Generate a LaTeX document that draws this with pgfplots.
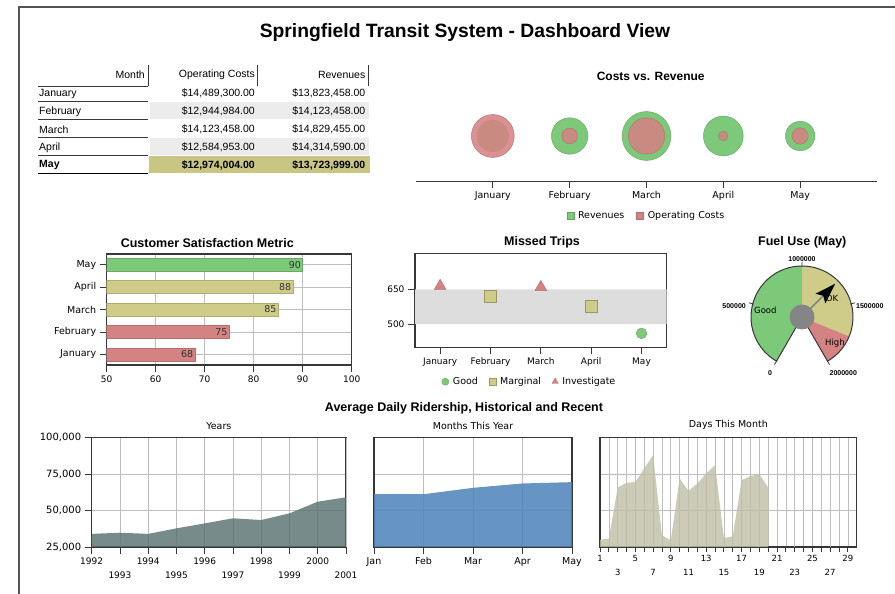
\documentclass[border=0pt]{standalone}
\usepackage{fontspec}
\setmainfont{DejaVu Sans}
\newfontfamily\lib{Liberation Sans}
\usepackage{pgfplots}
\usepackage{pgfplotstable}
\pgfplotsset{compat=1.18}
\usetikzlibrary{calc}
\newcommand\fs[1]{\fontsize{#1}{#1}\selectfont}

\definecolor{cgreen}{RGB}{125,201,122}
\definecolor{colive}{RGB}{206,204,136}
\definecolor{cred}{RGB}{212,130,130}
\definecolor{axgray}{RGB}{55,55,55}
\definecolor{gridgray}{RGB}{190,190,190}
\definecolor{rowgray}{RGB}{236,236,236}
\definecolor{mayolive}{RGB}{200,198,130}
\definecolor{slate}{RGB}{85,110,110}
\definecolor{steel}{RGB}{75,130,185}
\definecolor{khaki}{RGB}{190,190,165}
\definecolor{band}{RGB}{221,221,221}
\definecolor{hub}{RGB}{133,133,133}
\definecolor{framegray}{RGB}{85,85,85}

% Costs vs revenue (millions of dollars)
\pgfplotstableread{
i rev cost
0 13.823458 14.489300
1 14.123458 12.944984
2 14.829455 14.123458
3 14.314590 12.584953
4 13.723999 12.974004
}\bubbles

% Missed trips
\pgfplotstableread{
m trips
1 621
3 578
}\marginal
\pgfplotstableread{
m trips
0 664
2 659
}\investigate
\pgfplotstableread{
m trips
4 460
}\good

% Ridership
\pgfplotstableread{
year riders
1992 34000
1993 34800
1994 34000
1995 37800
1996 41200
1997 44700
1998 43500
1999 48100
2000 56100
2001 59100
}\years
\pgfplotstableread{
m riders
0 61200
1 61200
2 65600
3 68600
4 69500
}\months
\pgfplotstableread{
d riders
1 30000
2 30700
3 65800
4 69000
5 69700
6 78900
7 88100
8 33000
9 29600
10 72000
11 63500
12 68600
13 75500
14 81200
15 31200
16 32300
17 70900
18 73600
19 75000
20 65800
}\days

\pgfplotsset{dashax/.style={
  scale only axis, anchor=south west,
  /pgf/number format/assume math mode=true,
  scaled ticks=false,
  axis line style={axgray, line width=1.1pt},
  tick style={axgray, line width=0.9pt},
  tick align=outside, tick pos=left,
  major tick length=7pt,
  grid style={gridgray, line width=0.7pt},
  tick label style={font=\fs{9}},
  title style={font=\fs{9.5}, at={(0.5,1)}, anchor=south, yshift=0pt, inner sep=2pt},
}}

\begin{document}
\begin{tikzpicture}
\path[use as bounding box] (0pt,0pt) rectangle (895pt,594pt);
\draw[framegray, line width=2pt] (19pt,0pt) -- (19pt,586.5pt) -- (895pt,586.5pt);

% Main title
\node[font=\lib\bfseries\fs{19.3}] at (465pt,561pt) {Springfield Transit System - Dashboard View};

% ---------------- Table ----------------
\fill[rowgray] (150pt,475.2pt) rectangle (369pt,491.8pt);
\fill[rowgray] (150pt,439.2pt) rectangle (369pt,456pt);
\fill[mayolive] (149pt,420.7pt) rectangle (370pt,437.6pt);
\foreach \yy in {508,492.3,474.7,456.7,438.3}
  \draw[axgray, line width=0.8pt] (38pt,\yy pt) -- (148pt,\yy pt);
\draw[black, line width=1.3pt] (38pt,420.7pt) -- (148pt,420.7pt);
\foreach \xx in {148,257.7,368.3}
  \draw[axgray, line width=1pt] (\xx pt,508pt) -- (\xx pt,529pt);
\begin{scope}[every node/.style={font=\lib\fs{10.5}, inner sep=0pt}]
\node[anchor=east] at (145pt,519pt) {Month};
\node[anchor=east] at (255pt,519pt) {Operating Costs};
\node[anchor=east] at (365.5pt,519pt) {Revenues};
\node[anchor=west] at (39pt,500.3pt) {January};
\node[anchor=east] at (255pt,500.3pt) {\$14,489,300.00};
\node[anchor=east] at (365.5pt,500.3pt) {\$13,823,458.00};
\node[anchor=west] at (39pt,482.5pt) {February};
\node[anchor=east] at (255pt,482.5pt) {\$12,944,984.00};
\node[anchor=east] at (365.5pt,482.5pt) {\$14,123,458.00};
\node[anchor=west] at (39pt,464.5pt) {March};
\node[anchor=east] at (255pt,464.5pt) {\$14,123,458.00};
\node[anchor=east] at (365.5pt,464.5pt) {\$14,829,455.00};
\node[anchor=west] at (39pt,446.5pt) {April};
\node[anchor=east] at (255pt,446.5pt) {\$12,584,953.00};
\node[anchor=east] at (365.5pt,446.5pt) {\$14,314,590.00};
\node[anchor=west, font=\lib\bfseries\fs{10.5}] at (39pt,428.7pt) {May};
\node[anchor=east, font=\lib\bfseries\fs{10.5}] at (255pt,428.7pt) {\$12,974,004.00};
\node[anchor=east, font=\lib\bfseries\fs{10.5}] at (365.5pt,428.7pt) {\$13,723,999.00};
\end{scope}

% ---------------- Costs vs Revenue ----------------
\node[font=\lib\bfseries\fs{12}] at (650.7pt,517.3pt) {Costs vs. Revenue};
\begin{axis}[scale only axis, anchor=south west, at={(416pt,412.3pt)},
  width=461pt, height=91.4pt, xmin=-1, xmax=5, ymin=0, ymax=1,
  axis x line*=bottom, axis y line=none, ytick=\empty,
  xtick={0,...,4}, xticklabels={January,February,March,April,May},
  tick align=outside, major tick length=6pt,
  axis line style={axgray, line width=1.2pt}, tick style={axgray, line width=1pt},
  tick label style={font=\fs{9.5}}, clip=false,
  legend style={draw=none, fill=none, font=\fs{9.5}, at={(0.5,-0.368)}, anchor=center,
    legend columns=2, /tikz/every even column/.append style={column sep=10pt},
    /tikz/every odd column/.append style={column sep=2pt}},
  legend cell align=left]
\addplot[scatter, only marks, mark=*, forget plot,
  scatter/use mapped color={draw=cgreen!80!black, fill=cgreen},
  visualization depends on={4.7+8.8*(\thisrow{rev}-12.585) \as \rr},
  scatter/@pre marker code/.append style={/tikz/mark size=\rr}]
  table[x=i, y expr=0.5] {\bubbles};
\addplot[scatter, only marks, mark=*, forget plot,
  scatter/use mapped color={draw=cred!85!black, fill=cred, fill opacity=0.88},
  visualization depends on={4.7+8.8*(\thisrow{cost}-12.585) \as \rc},
  scatter/@pre marker code/.append style={/tikz/mark size=\rc}]
  table[x=i, y expr=0.5] {\bubbles};
\addlegendimage{legend image code/.code={\draw[fill=cgreen, draw=cgreen!80!black] (0pt,-3.5pt) rectangle (7pt,3.5pt);}}
\addlegendentry{Revenues}
\addlegendimage{legend image code/.code={\draw[fill=cred, draw=cred!85!black] (0pt,-3.5pt) rectangle (7pt,3.5pt);}}
\addlegendentry{Operating Costs}
\end{axis}

% ---------------- Customer Satisfaction ----------------
\node[font=\lib\bfseries\fs{12.5}] at (207.3pt,351.3pt) {Customer Satisfaction Metric};
\begin{axis}[dashax, at={(106.7pt,229pt)}, width=245pt, height=111pt,
  xbar, bar width=12.7pt, bar shift=0pt,
  xmin=50, xmax=100, xtick={50,60,...,100},
  ymin=-0.47, ymax=4.47, ytick={0,...,4},
  yticklabels={January,February,March,April,May},
  yticklabel style={font=\fs{9.5}},
  grid=major, point meta=x,
  nodes near coords, nodes near coords align={anchor=east},
  every node near coord/.append style={font=\fs{9.5}, text=black!80, inner sep=1.5pt}]
\addplot[fill=cred, draw=cred!85!black, line width=0.5pt] coordinates {(68,0) (75,1)};
\addplot[fill=colive, draw=colive!85!black, line width=0.5pt] coordinates {(85,2) (88,3)};
\addplot[fill=cgreen, draw=cgreen!85!black, line width=0.5pt] coordinates {(90,4)};
\end{axis}

% ---------------- Missed Trips ----------------
\node[font=\lib\bfseries\fs{12.5}] at (542pt,352pt) {Missed Trips};
\begin{axis}[dashax, at={(415pt,246.7pt)}, width=251.7pt, height=94pt,
  xmin=-0.5, xmax=4.5, ymin=400, ymax=805,
  xtick={0,...,4}, xticklabels={January,February,March,April,May},
  ytick={500,650},
  legend style={draw=none, fill=none, font=\fs{9.5}, at={(0.455,-0.366)}, anchor=center,
    legend columns=3, /tikz/every even column/.append style={column sep=9pt},
    /tikz/every odd column/.append style={column sep=2pt}},
  legend image post style={mark size=3.6pt},
  legend cell align=left]
\addplot[draw=none, fill=band, forget plot] coordinates {(-0.5,500) (4.5,500) (4.5,650) (-0.5,650) (-0.5,500)};
\addplot[only marks, mark=*, mark size=5.4pt, mark options={fill=cgreen, draw=cgreen!85!black}] table[x=m, y=trips] {\good};
\addlegendentry{Good}
\addplot[only marks, mark=square*, mark size=6pt, mark options={fill=colive, draw=colive!75!black}] table[x=m, y=trips] {\marginal};
\addlegendentry{Marginal}
\addplot[only marks, mark=triangle*, mark size=6.8pt, mark options={fill=cred, draw=cred!85!black}] table[x=m, y=trips] {\investigate};
\addlegendentry{Investigate}
\end{axis}

% ---------------- Fuel gauge ----------------
\node[font=\lib\bfseries\fs{12.5}] at (802.3pt,351.3pt) {Fuel Use (May)};
\begin{axis}[at={(802pt,277pt)}, anchor=center, scale only axis, width=120pt, height=120pt,
  xmin=-60, xmax=60, ymin=-60, ymax=60, hide axis, clip=false]
\addplot[draw=none, mark=none] coordinates {(0,0)};
\coordinate (gc) at (axis cs:0,0);
\end{axis}
% values in thousands: scale 0..2000 over 300 degrees, 0 at 240 deg
\fill[cgreen] (gc) -- +({240-0.15*0}:51pt) arc[start angle={240-0.15*0}, end angle={240-0.15*1000}, radius=51pt] -- cycle;
\fill[colive] (gc) -- +({240-0.15*1000}:51pt) arc[start angle={240-0.15*1000}, end angle={240-0.15*1750}, radius=51pt] -- cycle;
\fill[cred] (gc) -- +({240-0.15*1750}:51pt) arc[start angle={240-0.15*1750}, end angle={240-0.15*2000}, radius=51pt] -- cycle;
\draw[axgray, line width=1pt, line join=round] (gc) -- +(240:51pt) arc[start angle=240, end angle=-60, radius=51pt] -- cycle;
\foreach \v in {0,500,1000,1500,2000}
  \draw[axgray, line width=0.8pt] ($(gc)+({240-0.15*\v}:50pt)$) -- ($(gc)+({240-0.15*\v}:55pt)$);
\fill[hub] (gc) circle[radius=12.5pt];
\draw[hub, line width=1.6pt] (gc) -- +({240-0.15*1300}:30pt);
\fill[black] ($(gc)+({240-0.15*1300}:47pt)$) -- ($(gc)+({240-0.15*1300}:26pt)+({150-0.15*1300}:7pt)$)
  -- ($(gc)+({240-0.15*1300}:30pt)$) -- ($(gc)+({240-0.15*1300}:26pt)+({330-0.15*1300}:7pt)$) -- cycle;
\begin{scope}[every node/.style={font=\lib\bfseries\fs{7}, inner sep=0pt}]
\node at ($(gc)+(0pt,57.7pt)$) {1000000};
\node[anchor=east] at ($(gc)+(-56pt,11pt)$) {500000};
\node[anchor=west] at ($(gc)+(54pt,11pt)$) {1500000};
\node at ($(gc)+(-32pt,-56.3pt)$) {0};
\node at ($(gc)+(41.3pt,-56.3pt)$) {2000000};
\end{scope}
\node[anchor=west, font=\fs{8.5}, inner sep=0pt] at ($(gc)+(-48pt,7pt)$) {Good};
\node[font=\fs{8.5}, inner sep=0pt] at ($(gc)+(30pt,18.7pt)$) {OK};
\node[font=\fs{8.5}, inner sep=0pt] at ($(gc)+(33pt,-26.3pt)$) {High};

% ---------------- Ridership ----------------
\node[font=\lib\bfseries\fs{12.5}] at (464pt,186pt) {Average Daily Ridership, Historical and Recent};

\begin{axis}[dashax, at={(91.7pt,47pt)}, width=254.3pt, height=109.3pt,
  /pgf/number format/1000 sep={},
  xmin=1992, xmax=2001, ymin=25000, ymax=100000,
  xtick={1992,1994,...,2000}, extra x ticks={1993,1995,...,2001},
  extra x tick style={grid=major, tick label style={yshift=-14pt}},
  ytick={25000,50000,75000,100000},
  yticklabels={{25,000},{50,000},{75,000},{100,000}},
  yticklabel style={font=\fs{10}},
  grid=major, title={Years}]
\addplot[fill=slate, fill opacity=0.8, draw=none] table[x=year, y=riders] {\years} \closedcycle;
\end{axis}

\begin{axis}[dashax, at={(374pt,47pt)}, width=198pt, height=109.3pt,
  xmin=0, xmax=4, ymin=25000, ymax=100000,
  xtick={0,...,4}, xticklabels={Jan,Feb,Mar,Apr,May},
  xticklabel style={font=\fs{9.5}},
  ytick={50000,75000}, yticklabels={}, ytick style={draw=none},
  grid=major, title={Months This Year}]
\addplot[fill=steel, fill opacity=0.85, draw=none] table[x=m, y=riders] {\months} \closedcycle;
\end{axis}

\begin{axis}[dashax, at={(600pt,47pt)}, width=256.7pt, height=109.3pt,
  xmin=1, xmax=30, ymin=25000, ymax=100000,
  xtick={1,5,...,29}, minor x tick num=3,
  extra x ticks={3,7,...,27},
  extra x tick style={grid=major, tick label style={yshift=-14pt}},
  major tick length=5pt, minor tick length=5pt,
  xticklabel style={font=\fs{8.5}},
  ytick={50000,75000}, yticklabels={}, ytick style={draw=none},
  grid=both, minor grid style={gridgray, line width=0.7pt},
  title={Days This Month}]
\addplot[fill=khaki, fill opacity=0.8, draw=none] table[x=d, y=riders] {\days} \closedcycle;
\end{axis}

\end{tikzpicture}
\end{document}
